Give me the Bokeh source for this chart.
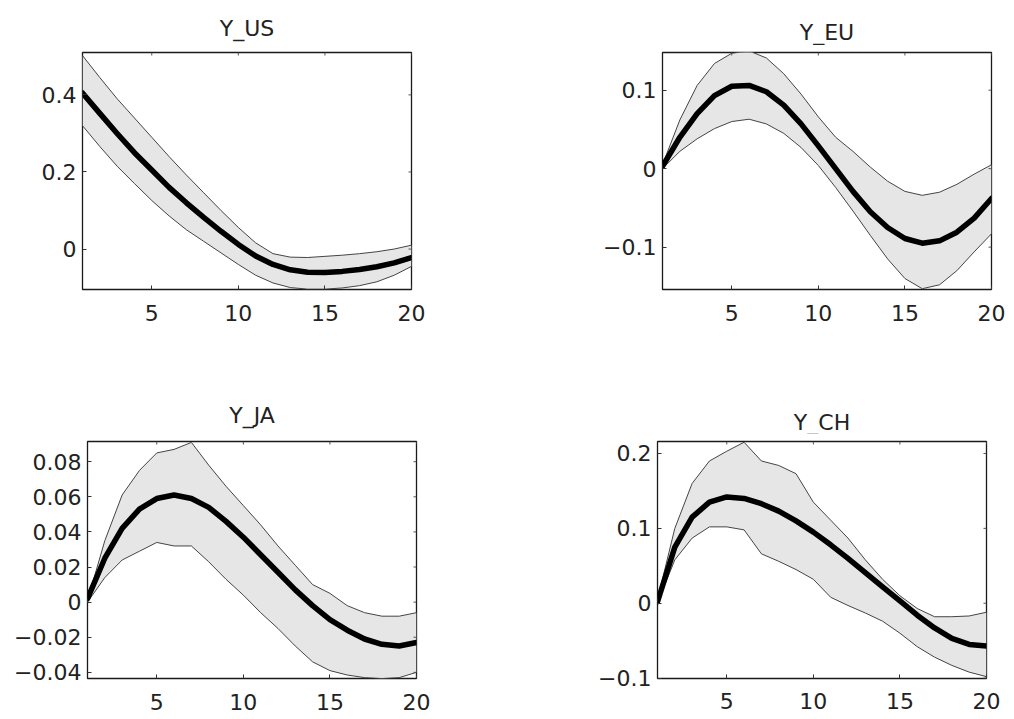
from bokeh.plotting import figure
from bokeh.models import FixedTicker, CustomJSTickFormatter, Range1d, ColumnDataSource
from bokeh.core.properties import value
from bokeh.layouts import row, column
from bokeh.embed import file_html
from bokeh.resources import INLINE

steps = list(range(1, 21))
x_ticks = [5, 10, 15, 20]

us_median = [0.405, 0.352, 0.300, 0.250, 0.205, 0.160, 0.120, 0.082, 0.046, 0.012,
             -0.018, -0.040, -0.054, -0.060, -0.061, -0.058, -0.053, -0.046, -0.036, -0.022]
us_upper = [0.502, 0.445, 0.390, 0.340, 0.290, 0.240, 0.192, 0.146, 0.100, 0.056,
            0.016, -0.012, -0.021, -0.022, -0.019, -0.016, -0.012, -0.007, 0.000, 0.010]
us_lower = [0.320, 0.266, 0.215, 0.170, 0.126, 0.086, 0.050, 0.020, -0.010, -0.040,
            -0.068, -0.088, -0.100, -0.104, -0.104, -0.101, -0.095, -0.085, -0.068, -0.045]
us_ticks = [0, 0.2, 0.4]

eu_median = [0.003, 0.040, 0.070, 0.093, 0.105, 0.106, 0.098, 0.081, 0.057, 0.029,
             0.000, -0.029, -0.055, -0.075, -0.089, -0.095, -0.092, -0.081, -0.063, -0.038]
eu_upper = [0.005, 0.062, 0.106, 0.134, 0.147, 0.150, 0.141, 0.121, 0.095, 0.066,
            0.040, 0.022, 0.002, -0.016, -0.029, -0.034, -0.030, -0.020, -0.007, 0.005]
eu_lower = [0.000, 0.022, 0.038, 0.051, 0.060, 0.063, 0.057, 0.045, 0.027, 0.004,
            -0.024, -0.054, -0.085, -0.115, -0.140, -0.153, -0.148, -0.130, -0.106, -0.083]
eu_ticks = [-0.1, 0, 0.1]

ja_median = [0.002, 0.025, 0.042, 0.053, 0.059, 0.061, 0.059, 0.054, 0.046, 0.037,
             0.027, 0.017, 0.007, -0.002, -0.010, -0.016, -0.021, -0.024, -0.025, -0.023]
ja_upper = [0.001, 0.035, 0.061, 0.075, 0.085, 0.087, 0.091, 0.078, 0.066, 0.055,
            0.044, 0.032, 0.021, 0.010, 0.005, -0.002, -0.006, -0.008, -0.008, -0.006]
ja_lower = [0.000, 0.014, 0.024, 0.029, 0.034, 0.032, 0.032, 0.023, 0.013, 0.004,
            -0.006, -0.015, -0.025, -0.034, -0.039, -0.0415, -0.043, -0.0435, -0.043, -0.040]
ja_ticks = [-0.04, -0.02, 0, 0.02, 0.04, 0.06, 0.08]

ch_median = [0.002, 0.075, 0.115, 0.135, 0.142, 0.140, 0.133, 0.123, 0.110, 0.095,
             0.078, 0.060, 0.041, 0.022, 0.003, -0.016, -0.033, -0.047, -0.055, -0.057]
ch_upper = [0.005, 0.100, 0.160, 0.190, 0.203, 0.215, 0.190, 0.184, 0.173, 0.135,
            0.111, 0.087, 0.058, 0.032, 0.010, -0.007, -0.018, -0.018, -0.017, -0.012]
ch_lower = [0.000, 0.058, 0.087, 0.102, 0.102, 0.098, 0.066, 0.056, 0.045, 0.032,
            0.008, -0.003, -0.013, -0.024, -0.040, -0.058, -0.072, -0.083, -0.092, -0.098]
ch_ticks = [-0.1, 0, 0.1, 0.2]

titles = ["Y_US", "Y_EU", "Y_JA", "Y_CH"]

FONT = "DejaVu Sans"
TXT = "#222222"
FW, FH = 329, 237


def title_strip(text, height, left, right, baseline):
    t = figure(frame_width=FW, frame_height=height,
               x_range=Range1d(0, 1), y_range=Range1d(0, height),
               x_axis_location=None, y_axis_location=None,
               output_backend="svg", toolbar_location=None,
               min_border_left=left, min_border_right=right,
               min_border_top=0, min_border_bottom=0)
    t.xgrid.visible = False
    t.ygrid.visible = False
    t.outline_line_color = None
    t.background_fill_color = "white"
    t.border_fill_color = "white"
    t.text(x=[0.5], y=[baseline], text=[text], text_align="center",
           text_baseline="alphabetic", text_font=value(FONT),
           text_font_size="22px", text_color=TXT)
    return t


def panel(lower, median, upper, y_start, y_end, yticks, dec,
          left, right, top, bottom, xstandoff):
    p = figure(frame_width=FW, frame_height=FH,
               x_range=Range1d(1, 20), y_range=Range1d(y_start, y_end),
               output_backend="svg", toolbar_location=None,
               min_border_left=left, min_border_right=right,
               min_border_top=top, min_border_bottom=bottom)
    p.xgrid.visible = False
    p.ygrid.visible = False
    p.outline_line_color = "#1a1a1a"
    p.outline_line_width = 1.3
    p.background_fill_color = "white"
    p.border_fill_color = "white"

    src = ColumnDataSource(dict(x=steps, lo=lower, med=median, hi=upper))
    p.varea(x="x", y1="lo", y2="hi", source=src, fill_color="#e6e6e6")
    p.line(x="x", y="hi", source=src, line_color="#444444", line_width=1)
    p.line(x="x", y="lo", source=src, line_color="#444444", line_width=1)
    p.line(x="x", y="med", source=src, line_color="black", line_width=5.5,
           line_join="round", line_cap="round")

    # inward ticks on the top and right edges (MATLAB box style)
    ty = (y_end - y_start) * 3.0 / FH
    tx = (20 - 1) * 3.0 / FW
    p.segment(x0=x_ticks, x1=x_ticks, y0=[y_end] * len(x_ticks),
              y1=[y_end - ty] * len(x_ticks), line_color="#555555", line_width=1)
    p.segment(x0=[20] * len(yticks), x1=[20 - tx] * len(yticks), y0=yticks,
              y1=yticks, line_color="#555555", line_width=1)

    fmt = CustomJSTickFormatter(args=dict(d=dec), code="""
        if (Math.abs(tick) < 1e-9) return '0';
        const s = Math.abs(tick).toFixed(d);
        return (tick < 0 ? '\u2212' : '') + s;
    """)

    for ax in (p.xaxis[0], p.yaxis[0]):
        ax.major_label_text_font = FONT
        ax.major_label_text_font_size = "22px"
        ax.major_label_text_color = TXT
        ax.axis_line_color = None
        ax.major_tick_in = 4
        ax.major_tick_out = 0
        ax.major_tick_line_color = "#333333"
        ax.minor_tick_line_color = None
    p.xaxis[0].ticker = FixedTicker(ticks=x_ticks)
    p.xaxis[0].major_label_standoff = xstandoff
    p.yaxis[0].ticker = FixedTicker(ticks=yticks)
    p.yaxis[0].formatter = fmt
    p.yaxis[0].major_label_standoff = 6
    return p


s1 = title_strip(titles[0], 45, 82, 98, 17)
s2 = title_strip(titles[1], 45, 153, 18, 13)
p1 = panel(us_lower, us_median, us_upper, -0.105, 0.51, us_ticks, 1,
           82, 98, 4, 98, 15)
p2 = panel(eu_lower, eu_median, eu_upper, -0.154, 0.148, eu_ticks, 1,
           153, 18, 7, 95, 15)

s3 = title_strip(titles[2], 50, 87, 93, 19)
s4 = title_strip(titles[3], 50, 148, 23, 12)
p3 = panel(ja_lower, ja_median, ja_upper, -0.0435, 0.0915, ja_ticks, 2,
           87, 93, 2, 46, 15)
p4 = panel(ch_lower, ch_median, ch_upper, -0.1005, 0.216, ch_ticks, 1,
           148, 23, 7, 41, 14)

layout = column(row(s1, s2), row(p1, p2), row(s3, s4), row(p3, p4))
open("out.html", "w").write(file_html(layout, INLINE))
